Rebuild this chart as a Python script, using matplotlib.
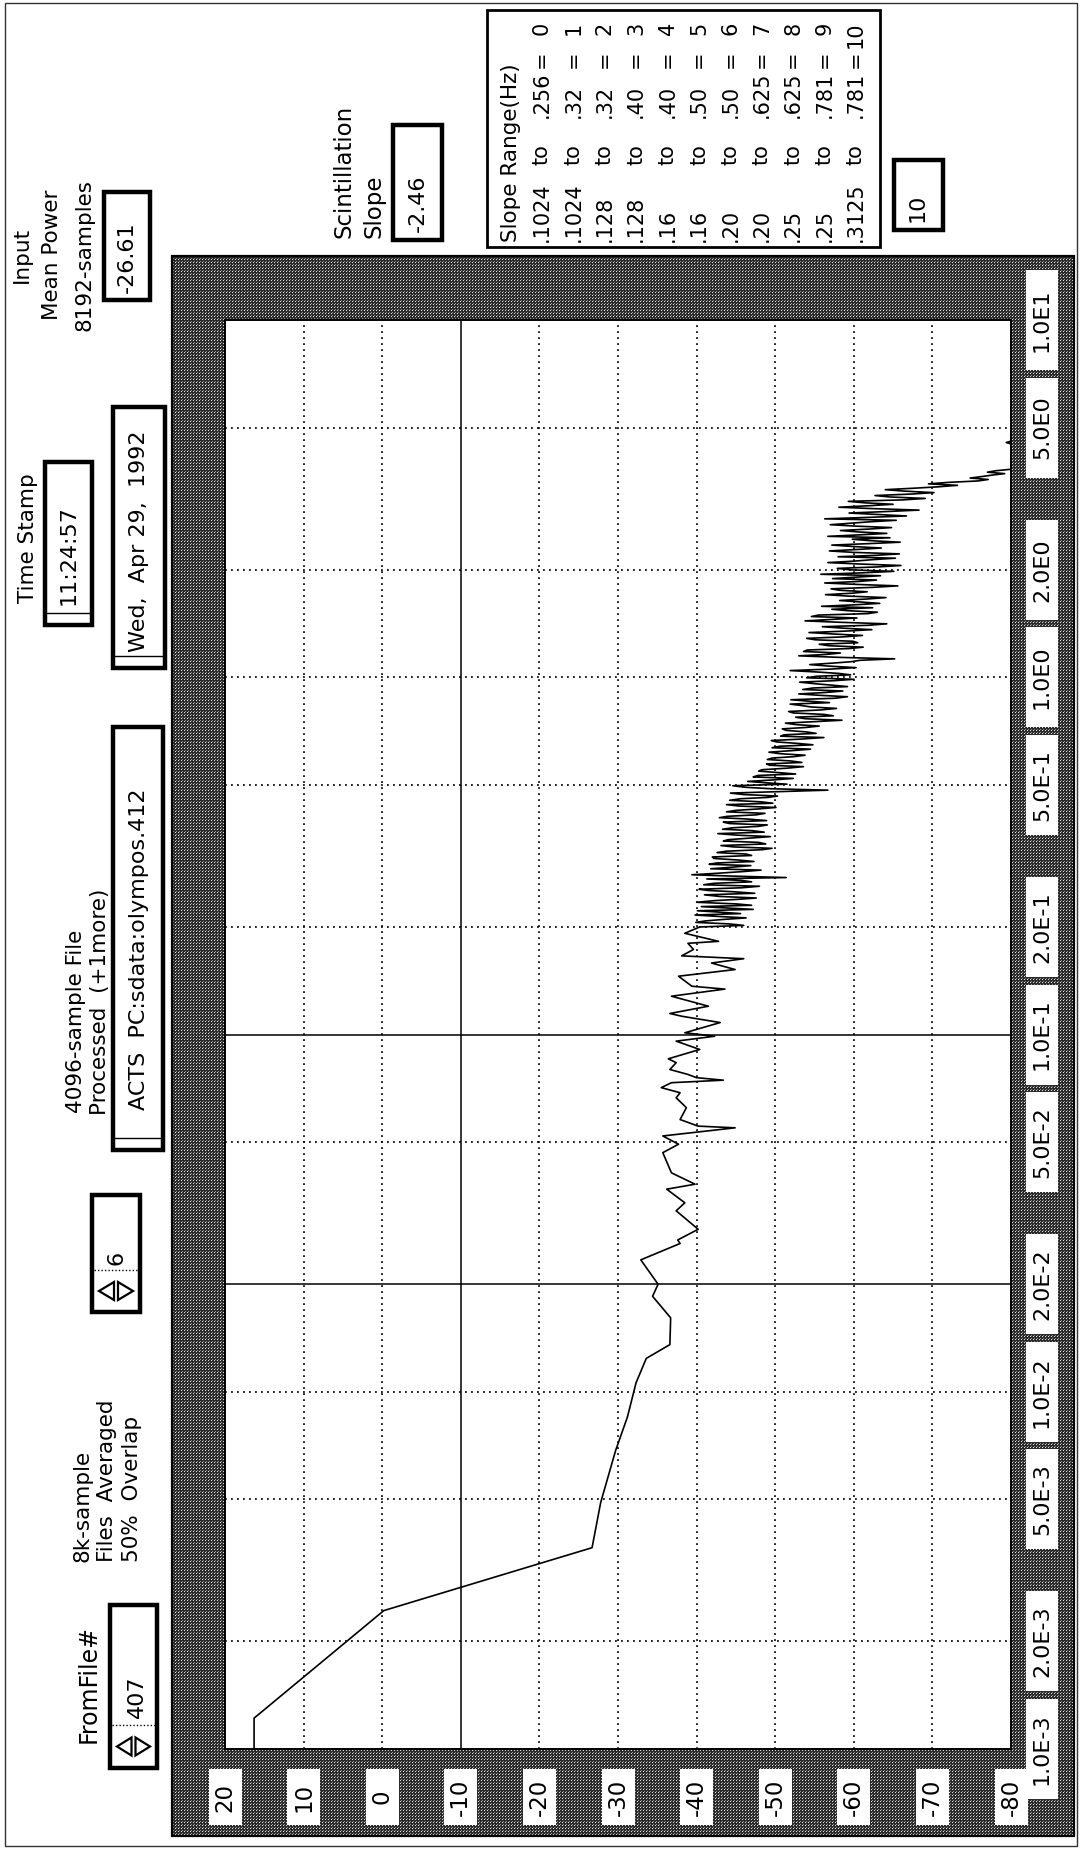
import numpy as np
import matplotlib
matplotlib.use("Agg")
import matplotlib.pyplot as plt
from matplotlib.patches import Rectangle, Polygon
from matplotlib.ticker import NullLocator

plt.rcParams['font.family'] = ['DejaVu Sans']

# spectrum trace: frequency (Hz) and level (dB)
low_freq = [0.00100, 0.00122, 0.00244, 0.00366, 0.00490, 0.00685, 0.00850, 0.0106, 0.0124, 0.01355,
            0.0161, 0.0185, 0.0200, 0.0234, 0.0260, 0.0266, 0.0285, 0.0321, 0.0338, 0.0369,
            0.0381, 0.0410, 0.0467, 0.0493, 0.0520, 0.0548, 0.0554, 0.0578, 0.0624, 0.0665,
            0.0687, 0.0710, 0.0733, 0.0745, 0.0757, 0.0773, 0.0798, 0.0834, 0.0855, 0.0908,
            0.0958, 0.0989, 0.1011, 0.108, 0.1125, 0.1145, 0.120, 0.128, 0.134, 0.1365,
            0.1456, 0.152, 0.1585, 0.163, 0.166, 0.173, 0.180, 0.1823, 0.192]
low_db = [16.3, 16.3, -0.2, -26.7, -27.8, -29.7, -31.2, -32.3, -33.6, -36.6,
          -36.7, -34.4, -35.1, -32.9, -37.9, -37.6, -40.2, -37.4, -38.5, -36.2,
          -39.8, -36.8, -35.7, -37.7, -35.7, -44.9, -40.2, -37.9, -38.7, -37.4,
          -37.9, -35.5, -36.8, -43.4, -40.0, -38.9, -36.6, -37.4, -36.4, -40.4,
          -37.4, -42.3, -38.5, -43.0, -38.1, -36.6, -41.5, -36.8, -43.6, -39.4,
          -37.7, -44.9, -41.9, -46.0, -38.1, -39.6, -38.9, -42.8, -38.5]

# dense part of the spectrum, 0.2 Hz up to the roll-off
band_freq = [
    0.200, 0.202, 0.204, 0.206, 0.208, 0.210, 0.212, 0.214, 0.216, 0.218,
    0.220, 0.222, 0.224, 0.226, 0.228, 0.230, 0.232, 0.2345, 0.237, 0.239,
    0.241, 0.2435, 0.246, 0.2485, 0.251, 0.253, 0.255, 0.2575, 0.260, 0.2625,
    0.265, 0.2675, 0.270, 0.2725, 0.275, 0.2775, 0.280, 0.283, 0.286, 0.2885,
    0.291, 0.294, 0.297, 0.2995, 0.302, 0.305, 0.308, 0.311, 0.314, 0.317,
    0.320, 0.323, 0.326, 0.329, 0.332, 0.335, 0.338, 0.3415, 0.345, 0.348,
    0.351, 0.3545, 0.358, 0.3615, 0.365, 0.3685, 0.372, 0.3755, 0.379, 0.3825,
    0.386, 0.3895, 0.393, 0.397, 0.401, 0.4045, 0.408, 0.412, 0.416, 0.420,
    0.424, 0.428, 0.432, 0.436, 0.440, 0.444, 0.448, 0.4525, 0.457, 0.461,
    0.465, 0.4695, 0.474, 0.4785, 0.483, 0.4875, 0.492, 0.497, 0.502, 0.5065,
    0.511, 0.516, 0.521, 0.526, 0.531, 0.536, 0.541, 0.546, 0.551, 0.5565,
    0.562, 0.567, 0.572, 0.5775, 0.583, 0.5885, 0.594, 0.5995, 0.605, 0.611,
    0.617, 0.623, 0.629, 0.635, 0.641, 0.647, 0.653, 0.659, 0.665, 0.6715,
    0.678, 0.684, 0.690, 0.6965, 0.703, 0.710, 0.717, 0.7235, 0.730, 0.737,
    0.744, 0.751, 0.758, 0.7655, 0.773, 0.780, 0.787, 0.7945, 0.802, 0.810,
    0.818, 0.8255, 0.833, 0.841, 0.849, 0.857, 0.865, 0.8735, 0.882, 0.890,
    0.898, 0.9065, 0.915, 0.924, 0.933, 0.9415, 0.950, 0.9595, 0.969, 0.978,
    0.987, 0.9965, 1.006, 1.0155, 1.025, 1.0345, 1.044, 1.054, 1.064, 1.0745,
    1.085, 1.095, 1.105, 1.1155, 1.126, 1.137, 1.148, 1.1585, 1.169, 1.1805,
    1.192, 1.203, 1.214, 1.2255, 1.237, 1.249, 1.261, 1.273, 1.285, 1.297,
    1.309, 1.3215, 1.334, 1.3465, 1.359, 1.372, 1.385, 1.398, 1.411, 1.4245,
    1.438, 1.4515, 1.465, 1.479, 1.493, 1.507, 1.521, 1.5355, 1.550, 1.565,
    1.580, 1.595, 1.610, 1.625, 1.640, 1.6555, 1.671, 1.687, 1.703, 1.719,
    1.735, 1.7515, 1.768, 1.785, 1.802, 1.819, 1.836, 1.8535, 1.871, 1.8885,
    1.906, 1.924, 1.942, 1.9605, 1.979, 1.998, 2.017, 2.036, 2.055, 2.0745,
    2.094, 2.114, 2.134, 2.154, 2.174, 2.1945, 2.215, 2.236, 2.257, 2.2785,
    2.300, 2.322, 2.344, 2.366, 2.388, 2.411, 2.434, 2.457, 2.480, 2.5035,
    2.527, 2.551, 2.575, 2.5995, 2.624, 2.6485, 2.673, 2.6985, 2.724, 2.750,
    2.776, 2.802, 2.828, 2.855, 2.882, 2.9095, 2.937, 2.9645, 2.992, 3.0205,
    3.049, 3.078, 3.107, 3.1365, 3.166, 3.196, 3.226, 3.2565, 3.287, 3.3185,
    3.350, 3.3815, 3.413, 3.4455, 3.478, 3.511, 3.544, 3.5775, 3.611, 3.6455,
    3.680, 3.715, 3.750, 3.7855, 3.821]
band_db = [
    -40.4, -46.0, -44.1, -39.9, -41.2, -43.5, -46.3, -42.8, -39.8, -45.6,
    -43.0, -40.1, -47.2, -44.0, -40.6, -47.0, -45.1, -40.0, -42.3, -45.3,
    -47.6, -42.9, -41.0, -47.4, -44.6, -41.5, -40.3, -45.8, -48.0, -40.9,
    -42.2, -47.0, -45.7, -41.3, -51.4, -44.8, -39.4, -43.0, -46.1, -48.2,
    -41.8, -44.5, -46.9, -41.6, -42.5, -47.3, -45.2, -42.2, -42.0, -47.0,
    -46.3, -42.6, -43.8, -48.3, -49.6, -44.7, -43.1, -48.8, -47.9, -43.4,
    -44.0, -46.8, -49.4, -45.1, -42.7, -48.6, -47.1, -43.3, -44.6, -47.9,
    -49.0, -44.2, -43.4, -48.9, -46.5, -42.9, -43.9, -47.6, -48.7, -43.8,
    -45.0, -47.9, -50.1, -45.4, -43.8, -49.7, -48.2, -44.2, -45.6, -49.1,
    -50.3, -46.0, -44.3, -50.6, -56.7, -49.4, -46.2, -44.6, -51.5, -48.8,
    -46.5, -49.8, -52.3, -47.2, -47.8, -52.6, -50.4, -47.9, -48.3, -51.5,
    -53.6, -49.3, -48.9, -53.4, -52.0, -49.0, -49.6, -52.4, -53.8, -50.6,
    -49.2, -52.1, -54.5, -49.6, -50.6, -54.8, -52.8, -50.2, -49.5, -53.4,
    -56.2, -50.7, -51.1, -55.2, -54.0, -51.4, -50.9, -53.9, -55.6, -52.6,
    -51.3, -55.0, -58.5, -53.8, -52.6, -57.4, -56.2, -52.3, -51.7, -55.8,
    -57.8, -54.6, -53.4, -51.9, -56.9, -54.3, -52.0, -57.6, -59.2, -55.7,
    -53.0, -56.4, -58.6, -53.5, -54.8, -59.2, -57.3, -55.0, -53.1, -57.5,
    -60.0, -54.0, -55.2, -59.6, -58.1, -55.3, -51.9, -57.0, -60.3, -56.8,
    -54.4, -57.2, -59.6, -60.8, -65.2, -58.0, -53.0, -56.5, -58.3, -53.6,
    -54.1, -59.4, -61.2, -56.8, -55.6, -60.5, -59.9, -55.1, -54.0, -58.6,
    -61.1, -57.4, -54.3, -59.0, -62.3, -58.7, -56.0, -61.9, -64.2, -58.5,
    -53.8, -57.1, -60.4, -54.6, -55.5, -61.8, -63.0, -59.3, -57.2, -62.4,
    -55.9, -60.1, -63.3, -60.7, -58.2, -61.6, -64.1, -59.3, -56.4, -59.8,
    -61.7, -58.2, -57.1, -62.4, -65.6, -60.4, -56.3, -60.5, -62.9, -57.3,
    -60.2, -63.4, -55.8, -61.2, -65.1, -59.6, -57.9, -63.0, -66.0, -60.8,
    -56.7, -60.1, -62.4, -65.3, -58.0, -62.9, -65.8, -60.0, -56.9, -60.4,
    -63.5, -60.0, -57.2, -61.9, -65.9, -62.2, -59.8, -64.6, -56.7, -60.7,
    -64.2, -60.6, -58.3, -62.0, -64.8, -60.3, -57.0, -59.6, -62.1, -65.4,
    -56.3, -61.8, -66.7, -63.0, -59.4, -64.1, -68.3, -62.5, -58.1, -61.9,
    -65.0, -61.4, -59.3, -66.2, -69.1, -64.6, -62.7, -67.3, -70.2, -66.5,
    -64.0, -67.6, -70.8, -73.2, -69.5, -72.0, -75.8, -77.1, -74.8, -76.3,
    -77.6, -79.2, -77.0, -78.1, -80.0]

tail_freq = [3.90, 4.50, 4.54, 4.58, 5.00]
tail_db = [-80.0, -80.0, -79.4, -80.0, -80.0]

db_ticks = [20, 10, 0, -10, -20, -30, -40, -50, -60, -70, -80]
freq_ticks = [1e-3, 2e-3, 5e-3, 1e-2, 2e-2, 5e-2, 1e-1, 2e-1, 5e-1, 1.0, 2.0, 5.0, 10.0]
freq_labels = ["1.0E-3", "2.0E-3", "5.0E-3", "1.0E-2", "2.0E-2", "5.0E-2", "1.0E-1",
               "2.0E-1", "5.0E-1", "1.0E0", "2.0E0", "5.0E0", "1.0E1"]
cursor_db = [-10]
cursor_freq = [2e-2, 1e-1]

# slope range table
range_lo = [".1024", ".1024", ".128", ".128", ".16", ".16", ".20", ".20", ".25", ".25", ".3125"]
range_hi = [".256", ".32", ".32", ".40", ".40", ".50", ".50", ".625", ".625", ".781", ".781"]
range_idx = ["0", "1", "2", "3", "4", "5", "6", "7", "8", "9", "10"]

trace_freq = low_freq + band_freq + tail_freq
trace_db = low_db + band_db + tail_db

W, H = 1091, 1850
fig = plt.figure(figsize=(W / 100, H / 100), dpi=100)
bg = fig.add_axes([0, 0, 1, 1])
bg.set_axis_off()

# page outline
bg.add_patch(Rectangle((5, 3), 1072, 1843, fill=False, ec='#333333', lw=1.0))

# halftone frame around the graph
ox0, ox1, oy0, oy1 = 172, 1074, 256, 1836
yy, xx = np.mgrid[0:oy1 - oy0, 0:ox1 - ox0]
tex = np.full(yy.shape, 0.17)
tex[(xx % 3 == 0) & (yy % 3 == 0)] = 0.88
tex[(xx % 3 == 1) & (yy % 3 == 2)] = 0.55
bg.imshow(tex, cmap='gray', vmin=0, vmax=1, extent=(ox0, ox1, oy1, oy0),
          interpolation='nearest', zorder=1)
bg.add_patch(Rectangle((ox0, oy0), ox1 - ox0, oy1 - oy0, fill=False, ec='black', lw=1.6, zorder=2))
bg.set_aspect('auto')
bg.set_xlim(0, W)
bg.set_ylim(H, 0)

# graph area
L, R, T, B = 225, 1011, 320, 1749
ax = fig.add_axes([L / W, 1 - B / H, (R - L) / W, (B - T) / H], zorder=3)
ax.set_facecolor('white')
ax.set_xlim(20, -80)
ax.set_yscale('log')
ax.set_ylim(1e-3, 10)
ax.yaxis.set_minor_locator(NullLocator())
ax.tick_params(which='both', left=False, bottom=False, labelleft=False, labelbottom=False)
for s in ax.spines.values():
    s.set_linewidth(1.4)

for v in db_ticks[1:-1]:
    if v in cursor_db:
        ax.axvline(v, color='black', lw=1.1, zorder=1)
    else:
        ax.axvline(v, color='black', lw=1.2, ls=(0, (1.1, 2.5)), zorder=1)
for f in freq_ticks[1:-1]:
    if f in cursor_freq:
        ax.axhline(f, color='black', lw=1.1, zorder=1)
    else:
        ax.axhline(f, color='black', lw=1.2, ls=(0, (1.1, 2.5)), zorder=1)

ax.plot(trace_db, trace_freq, color='black', lw=1.2, zorder=2)

# scale labels sitting in the frame
for v in db_ticks:
    px = ax.transData.transform((v, 1e-3))[0]
    bg.add_patch(Rectangle((px - 16.5, 1769), 33, 56, fc='white', ec='none', zorder=3))
    bg.text(px, 1797, str(v), rotation=90, ha='center', va='center', fontsize=16.5, zorder=4)
for f, lab in zip(freq_ticks, freq_labels):
    py = H - ax.transData.transform((20, f))[1]
    bg.add_patch(Rectangle((1026, py - 50), 32, 100, fc='white', ec='none', zorder=3))
    bg.text(1042, py, lab, rotation=90, ha='center', va='center', fontsize=16, zorder=4)


def vtext(x, y, s, size=15.5, va='bottom'):
    bg.text(x, y, s, rotation=90, ha='center', va=va, fontsize=size, zorder=5)


def indicator(x0, y0, x1, y1, handle=False):
    bg.add_patch(Rectangle((x0, y0), x1 - x0, y1 - y0, fc='white', ec='black', lw=3.2, zorder=3))
    if handle:
        bg.plot([x0 + 2, x1 - 2], [y1 - 12, y1 - 12], color='black', lw=1.0, zorder=4)


def spinner(x0, y0, x1, y1, sep):
    bg.add_patch(Rectangle((x0, y0), x1 - x0, y1 - y0, fc='white', ec='black', lw=3.2, zorder=3))
    bg.plot([x0 + 2, x1 - 2], [sep, sep], color='black', lw=1.0, ls=(0, (1, 1.5)), zorder=4)
    xm = (x0 + x1) / 2
    ym = (sep + y1) / 2
    bg.add_patch(Polygon([[x0 + 7, ym], [xm - 2, ym - 9], [xm - 2, ym + 9]], closed=True,
                         fc='white', ec='black', lw=1.6, zorder=4))
    bg.add_patch(Polygon([[x1 - 7, ym], [xm + 2, ym - 9], [xm + 2, ym + 9]], closed=True,
                         fc='white', ec='black', lw=1.6, zorder=4))


# file selector
vtext(89, 1743, "FromFile#", size=17)
spinner(110, 1605, 157, 1768, 1725)
vtext(137, 1718, "407", size=16)

# averaging
vtext(82, 1562, "8k-sample")
vtext(107, 1562, "Files  Averaged")
vtext(132, 1562, "50%  Overlap")
spinner(92, 1195, 140, 1312, 1270)
vtext(117, 1265, "6", size=16)

# processed file
vtext(76, 1113, "4096-sample File")
vtext(100, 1115, "Processed  (+1more)")
indicator(113, 727, 163, 1150, handle=True)
vtext(139, 1110, "ACTS  PC:sdata:olympos.412", size=16)

# time stamp
vtext(28, 538, "Time Stamp", va='center')
indicator(45, 462, 92, 625, handle=True)
vtext(69, 605, "11:24:57", size=16)
indicator(113, 407, 165, 668, handle=True)
vtext(139, 652, "Wed,  Apr 29,  1992", size=16)

# input power
vtext(22, 255, "Input", va='center')
vtext(52, 255, "Mean Power", va='center')
vtext(85, 255, "8192-samples", va='center')
indicator(104, 192, 150, 300)
vtext(127, 293, "-26.61", size=16)

# scintillation slope
vtext(344, 238, "Scintillation", size=16.5)
vtext(374, 238, "Slope", size=16.5)
indicator(393, 125, 442, 240)
vtext(418, 232, "-2.46", size=16)

# slope range table
bg.add_patch(Rectangle((487, 10), 393, 237, fc='white', ec='black', lw=2.0, zorder=3))
vtext(511, 242, "Slope Range(Hz)", size=15.5)
for i in range(len(range_lo)):
    x = 542 + i * 31.4
    vtext(x, 242, range_lo[i], size=15)
    vtext(x, 165, "to", size=15)
    vtext(x, 118, range_hi[i], size=15)
    vtext(x, 68, "=", size=15)
    vtext(x, 22, range_idx[i], size=15, va='top')

indicator(894, 160, 943, 230)
vtext(918, 222, "10", size=16)

fig.savefig("out.png", dpi=100)
